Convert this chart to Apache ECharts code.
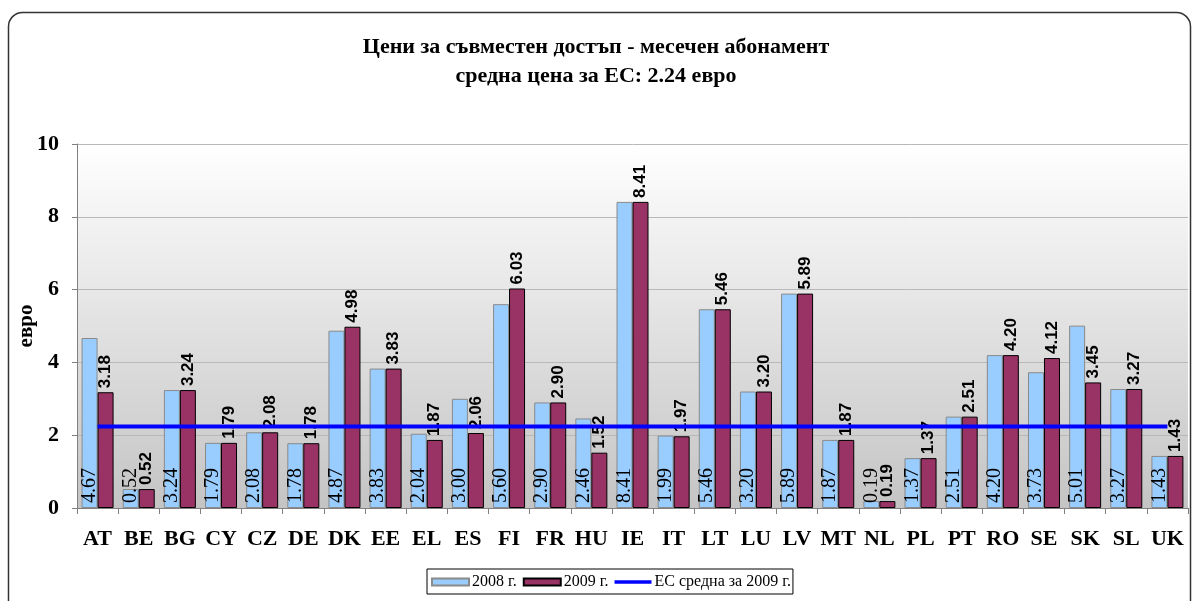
<!DOCTYPE html>
<html><head><meta charset="utf-8">
<script src="https://cdn.jsdelivr.net/npm/echarts@6/dist/echarts.min.js"></script>
<style>html,body{margin:0;padding:0;background:#fff}#c{width:1192px;height:601px}</style>
</head><body><div id="c"></div>
<script>
var categories = ['AT','BE','BG','CY','CZ','DE','DK','EE','EL','ES','FI','FR','HU','IE','IT','LT','LU','LV','MT','NL','PL','PT','RO','SE','SK','SL','UK'];
var values2008 = [4.67,0.52,3.24,1.79,2.08,1.78,4.87,3.83,2.04,3.00,5.60,2.90,2.46,8.41,1.99,5.46,3.20,5.89,1.87,0.19,1.37,2.51,4.20,3.73,5.01,3.27,1.43];
var values2009 = [3.18,0.52,3.24,1.79,2.08,1.78,4.98,3.83,1.87,2.06,6.03,2.90,1.52,8.41,1.97,5.46,3.20,5.89,1.87,0.19,1.37,2.51,4.20,4.12,3.45,3.27,1.43];
var euAverage2009 = 2.24;
var avgLine = categories.map(function(){ return euAverage2009; });
var yTicks = [0,2,4,6,8,10];
var seriesNames = ['2008 г.','2009 г.','ЕС средна за 2009 г.'];

var serif = '"Liberation Serif","Times New Roman",serif';
var sans = '"Liberation Sans",Arial,sans-serif';
var chart = echarts.init(document.getElementById('c'));
chart.setOption({
  animation: false,
  backgroundColor: '#fff',
  graphic: [{
    type: 'rect', z: -10, silent: true,
    shape: {x: 8.5, y: 12.5, width: 1182, height: 640, r: 14},
    style: {fill: 'none', stroke: '#333', lineWidth: 1.5}
  }],
  title: [{
    text: 'Цени за съвместен достъп - месечен абонамент',
    left: 591, top: 31, textAlign: 'center',
    textStyle: {fontFamily: serif, fontWeight: 'bold', fontSize: 22, color: '#000'}
  },{
    text: 'средна цена за ЕС: 2.24 евро',
    left: 591, top: 60, textAlign: 'center',
    textStyle: {fontFamily: serif, fontWeight: 'bold', fontSize: 22, color: '#000'}
  }],
  legend: {
    left: 427, top: 569,
    data: [
      {name: seriesNames[0], icon: 'rect'},
      {name: seriesNames[1], icon: 'rect'},
      {name: seriesNames[2], icon: 'path://M0,0 L40,0 L40,4 L0,4 Z'}
    ],
    itemWidth: 37, itemHeight: 7, itemGap: 6,
    borderColor: '#000', borderWidth: 1, padding: [5, 2, 4, 4],
    textStyle: {fontFamily: serif, fontSize: 16, color: '#000', padding: [0,0,0,-2]}
  },
  grid: {
    left: 77, right: 4, top: 144, bottom: 93,
    outerBoundsMode: 'none',
    show: true, borderWidth: 0,
    backgroundColor: new echarts.graphic.LinearGradient(0,0,0,1,[
      {offset: 0, color: '#ffffff'},{offset: 1, color: '#c4c4c4'}
    ])
  },
  xAxis: {
    type: 'category', data: categories,
    axisLine: {lineStyle: {color: '#808080', width: 1}},
    axisTick: {show: true, length: 6, lineStyle: {color: '#808080'}},
    axisLabel: {fontFamily: serif, fontWeight: 'bold', fontSize: 22, color: '#000', margin: 20, interval: 0}
  },
  yAxis: {
    type: 'value', min: yTicks[0], max: yTicks[yTicks.length-1], interval: 2,
    name: 'евро', nameLocation: 'middle', nameGap: 40, nameMoveOverlap: false,
    nameTextStyle: {fontFamily: serif, fontWeight: 'bold', fontSize: 21, color: '#000'},
    axisLine: {show: true, lineStyle: {color: '#808080', width: 1}},
    axisTick: {show: true, length: 5, lineStyle: {color: '#808080'}},
    splitLine: {lineStyle: {color: '#b8b8b8', width: 1}},
    axisLabel: {fontFamily: serif, fontWeight: 'bold', fontSize: 22, color: '#000', margin: 18}
  },
  series: [{
    name: seriesNames[0], type: 'bar', data: values2008,
    barWidth: 16, barGap: '0%',
    itemStyle: {color: '#99ccff', borderColor: '#8a8a8a', borderWidth: 1},
    label: {
      show: true, position: 'insideBottom', rotate: 90, align: 'left', verticalAlign: 'middle',
      distance: 5, fontFamily: serif, fontSize: 20, color: '#000',
      formatter: function(p){ return p.value.toFixed(2); }
    }
  },{
    name: seriesNames[1], type: 'bar', data: values2009,
    barWidth: 16, barGap: '0%',
    itemStyle: {color: '#993366', borderColor: '#000', borderWidth: 1},
    label: {
      show: true, position: 'top', rotate: 90, align: 'left', verticalAlign: 'middle',
      distance: 4, fontFamily: sans, fontWeight: 'bold', fontSize: 17, color: '#000',
      formatter: function(p){ return p.value.toFixed(2); }
    }
  },{
    name: seriesNames[2], type: 'line', data: avgLine,
    symbol: 'none', z: 5,
    lineStyle: {color: '#0000ff', width: 4},
    itemStyle: {color: '#0000ff'}
  }]
});
</script>
</body></html>
